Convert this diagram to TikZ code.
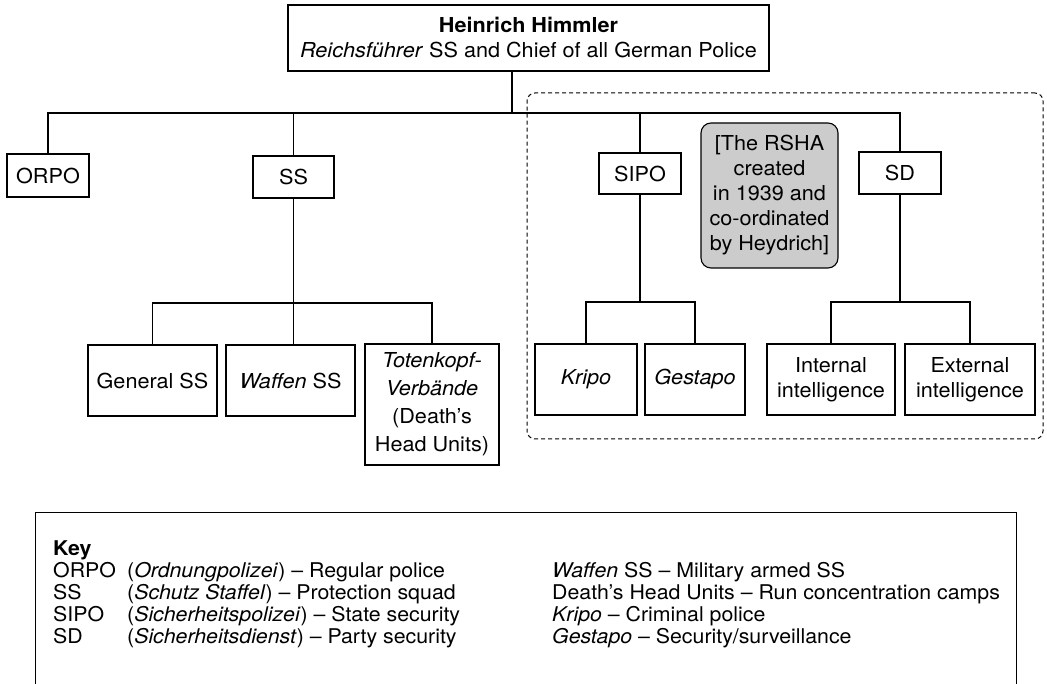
\documentclass[tikz,border=0pt]{standalone}
\usepackage{fontspec}
\setmainfont[FakeStretch=1.05]{TeX Gyre Heros}
\usetikzlibrary{positioning,calc}
\tikzset{
  bloc/.style     = {draw, line width=1.1pt, align=center, inner sep=2pt,
                     font=\fontsize{20.6}{25}\selectfont},
  blocgri/.style  = {bloc, fill=black!20, rounded corners=10pt},
  grup/.style     = {draw, dash pattern=on 4pt off 3pt, line width=1pt,
                     rounded corners=8pt},
  legatura/.style = {line width=1.1pt},
  cheie/.style    = {anchor=base west, inner sep=0pt,
                     font=\fontsize{20.3}{21}\selectfont}
}

\begin{document}
\begin{tikzpicture}[x=1pt, y=-1pt]
        \useasboundingbox (0,0) rectangle (1047,684);
        \node[grup, minimum width=516pt, minimum height=346pt] (zonarsha) at (785,266) {};

        \node[bloc, minimum width=481pt, minimum height=66pt] (himmler) at (528.5,38)
            {\textbf{Heinrich Himmler}\\ \textit{Reichsführer} SS and Chief of all German Police};

        \node[bloc, minimum width=82pt, minimum height=43pt] (orpo) at (48,175.5) {ORPO};
        \node[bloc, minimum width=81pt, minimum height=42pt] (ss) at (293.5,177) {SS};
        \node[bloc, minimum width=82pt, minimum height=41pt] (sipo) at (640,173.5) {SIPO};
        \node[bloc, minimum width=82pt, minimum height=42pt] (sd) at (900,173) {SD};
        \node[blocgri, minimum width=137pt, minimum height=145pt] (rsha) at (769.5,195.5)
            {[The RSHA\\ created\\ in 1939 and\\ co-ordinated\\ by Heydrich]};

        \node[bloc, minimum width=129pt, minimum height=71pt] (general) at (152.5,380.5) {General SS};
        \node[bloc, minimum width=129pt, minimum height=71pt] (waffen) at (290.5,380.5) {\textit{Waffen} SS};
        \node[bloc, minimum width=134pt, minimum height=121pt,
              font=\fontsize{20.6}{28}\selectfont] (toten) at (432,404.5)
            {\textit{Totenkopf-}\\ \textit{Verbände}\\ (Death's\\ Head Units)};
        \node[bloc, minimum width=102pt, minimum height=71pt] (kripo) at (586,379.5) {\textit{Kripo}};
        \node[bloc, minimum width=100pt, minimum height=71pt] (gestapo) at (695,379.5) {\textit{Gestapo}};
        \node[bloc, minimum width=128pt, minimum height=71pt] (intern) at (831,379.5) {Internal\\ intelligence};
        \node[bloc, minimum width=130pt, minimum height=71pt] (extern) at (970,379.5) {External\\ intelligence};

        % legaturile
        \coordinate (nod) at (512,113);
        \draw[legatura] (himmler.south -| nod) -- (nod);
        \draw[legatura] (orpo.north) |- (nod) -| (sd.north);
        \draw[legatura] (ss.north) -- (ss.north |- nod);
        \draw[legatura] (sipo.north) -- (sipo.north |- nod);

        \draw[legatura] (ss.south) -- (ss.south |- waffen.north);
        \draw[legatura] (general.north) |- (toten.north |- 0,303) -- (toten.north);
        \draw[legatura] (sipo.south) -- (sipo.south |- 0,302);
        \draw[legatura] (kripo.north) |- (gestapo.north |- 0,302) -- (gestapo.north);
        \draw[legatura] (sd.south) -- (sd.south |- 0,302);
        \draw[legatura] (intern.north) |- (extern.north |- 0,302) -- (extern.north);

        % legenda
        \node[draw, line width=1.1pt, minimum width=981pt, minimum height=190pt,
              anchor=north west] (legenda) at (35,512) {};
        \node[cheie] (titlu) at (53,555) {\textbf{Key}};
        \node[cheie] (k1) at (53,577.7) {ORPO};
        \node[cheie] (k2) at (53,599.7) {SS};
        \node[cheie] (k3) at (53,621) {SIPO};
        \node[cheie] (k4) at (53,643) {SD};
        \node[cheie] (d1) at (127,577.7) {(\textit{Ordnungpolizei}) -- Regular police};
        \node[cheie] (d2) at (127,599.7) {(\textit{Schutz Staffel}) -- Protection squad};
        \node[cheie] (d3) at (127,621) {(\textit{Sicherheitspolizei}) -- State security};
        \node[cheie] (d4) at (127,643) {(\textit{Sicherheitsdienst}) -- Party security};
        \node[cheie] (e1) at (552,577.7) {\textit{Waffen} SS -- Military armed SS};
        \node[cheie] (e2) at (552,599.7) {Death's Head Units -- Run concentration camps};
        \node[cheie] (e3) at (552,621) {\textit{Kripo} -- Criminal police};
        \node[cheie] (e4) at (552,643) {\textit{Gestapo} -- Security/surveillance};
    \end{tikzpicture}
\end{document}
